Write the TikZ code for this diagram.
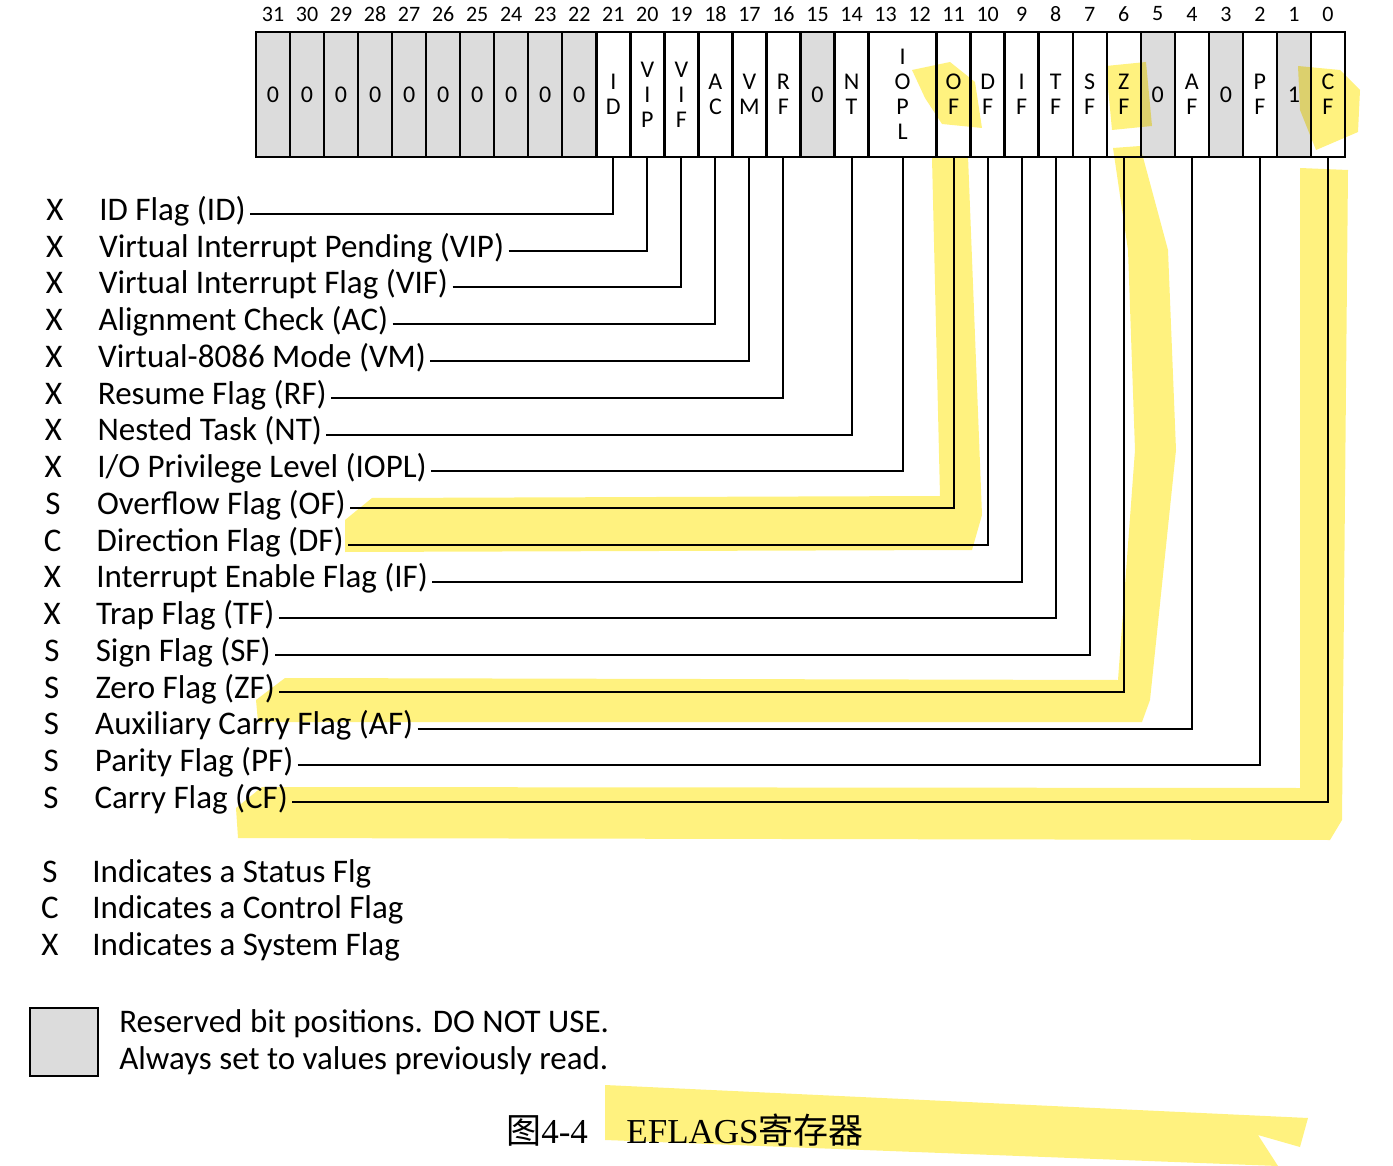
\documentclass[tikz,border=0pt]{standalone}
\usepackage{fontspec}
\setmainfont{Carlito}
\newfontfamily\capserif{Liberation Serif}
\newfontfamily\cjk{Noto Sans CJK SC}
\usetikzlibrary{positioning}
\definecolor{RegGray}{HTML}{DCDCDC}
\definecolor{MarkYellow}{HTML}{FFF27F}
\tikzset{
  regcell/.style={draw,line width=1.2pt,inner sep=0pt,outer sep=0pt,minimum height=62.5pt,align=center,font=\fontsize{12}{12.5}\selectfont},
  rsvcell/.style={regcell,fill=RegGray},
  flagcell/.style={regcell},
  bitnum/.style={font=\fontsize{11}{12}\selectfont,inner sep=0pt},
  catlbl/.style={font=\fontsize{16.5}{18}\selectfont,inner sep=0pt,text height=0.8em,text depth=0.16em},
  flaglbl/.style={anchor=west,font=\fontsize{16.5}{18}\selectfont,inner sep=2pt,text height=0.8em,text depth=0.16em},
  flaglink/.style={line width=1pt},
  marker/.style={fill=MarkYellow,draw=none}
}
\begin{document}
\begin{tikzpicture}[x=0.5pt,y=-0.5pt]
\useasboundingbox (0,0) rectangle (1393,1166);
% register cells, bit 31 down to bit 0
\coordinate (regstart) at (256,94.5);
\foreach \nm/\txt/\w/\kind [remember=\nm as \prev (initially regstart)] in {
  r31/0/1/rsvcell, r30/0/1/rsvcell, r29/0/1/rsvcell, r28/0/1/rsvcell, r27/0/1/rsvcell,
  r26/0/1/rsvcell, r25/0/1/rsvcell, r24/0/1/rsvcell, r23/0/1/rsvcell, r22/0/1/rsvcell,
  cID/{I\\D}/1/flagcell, cVIP/{V\\I\\P}/1/flagcell, cVIF/{V\\I\\F}/1/flagcell,
  cAC/{A\\C}/1/flagcell, cVM/{V\\M}/1/flagcell, cRF/{R\\F}/1/flagcell,
  r15/0/1/rsvcell, cNT/{N\\T}/1/flagcell, cIOPL/{I\\O\\P\\L}/2/flagcell,
  cOF/{O\\F}/1/flagcell, cDF/{D\\F}/1/flagcell, cIF/{I\\F}/1/flagcell,
  cTF/{T\\F}/1/flagcell, cSF/{S\\F}/1/flagcell, cZF/{Z\\F}/1/flagcell,
  r5/0/1/rsvcell, cAF/{A\\F}/1/flagcell, r3/0/1/rsvcell, cPF/{P\\F}/1/flagcell,
  r1/1/1/rsvcell, cCF/{C\\F}/1/flagcell}
  \node[\kind,minimum width=\w*17.015pt,right=0pt of \prev] (\nm) {\txt};
% bit numbers
\foreach \b in {0,...,31}
  \node[bitnum] (n\b) at ({256+(31.5-\b)*34.03},14) {\b};
% flag names and their links
\foreach \i/\cat/\txt/\cell in {
  0/X/{ID Flag (ID)}/cID, 1/X/{Virtual Interrupt Pending (VIP)}/cVIP,
  2/X/{Virtual Interrupt Flag (VIF)}/cVIF, 3/X/{Alignment Check (AC)}/cAC,
  4/X/{Virtual-8086 Mode (VM)}/cVM, 5/X/{Resume Flag (RF)}/cRF,
  6/X/{Nested Task (NT)}/cNT, 7/X/{I/O Privilege Level (IOPL)}/cIOPL,
  8/S/{Overflow Flag (OF)}/cOF, 9/C/{Direction Flag (DF)}/cDF,
  10/X/{Interrupt Enable Flag (IF)}/cIF, 11/X/{Trap Flag (TF)}/cTF,
  12/S/{Sign Flag (SF)}/cSF, 13/S/{Zero Flag (ZF)}/cZF,
  14/S/{Auxiliary Carry Flag (AF)}/cAF, 15/S/{Parity Flag (PF)}/cPF,
  16/S/{Carry Flag (CF)}/cCF}
{
  \node[catlbl] (k\i) at (55-\i*0.25,214+\i*36.75) {\cat};
  \node[flaglbl] (f\i) at (95-\i*0.3,214+\i*36.75) {\txt};
  \draw[flaglink] (f\i.east) -| (\cell.south);
}
% legend
\node[catlbl] (kS) at (50,876) {S};
\node[flaglbl] (lS) at (88,876) {Indicates a Status Flg};
\node[catlbl] (kC) at (50,912) {C};
\node[flaglbl] (lC) at (88,912) {Indicates a Control Flag};
\node[catlbl] (kX) at (50,949) {X};
\node[flaglbl] (lX) at (88,949) {Indicates a System Flag};
\node[draw,line width=1.2pt,fill=RegGray,minimum width=34pt,minimum height=34pt,inner sep=0pt] (rsvkey) at (64,1042) {};
\node[align=left,font=\fontsize{16.5}{18.5}\selectfont,right=6.5pt of rsvkey] (rsvtxt) {Reserved bit positions. DO NOT USE.\\Always set to values previously read.};
% caption
\node[font=\capserif\fontsize{17.5}{20}\selectfont] (cap) at (685,1130) {{\cjk 图}4-4\hspace{1.1em}EFLAGS{\cjk 寄存器}};
% highlighter marks
\begin{scope}[blend mode=multiply]
  \fill[marker] (912,70) -- (950,62) -- (975,82) -- (982,128) -- (942,124) -- (925,98) -- cycle;
  \fill[marker] (932,158) -- (968,156) -- (982,515) -- (972,550) -- (345,552) -- (345,520) -- (372,498) -- (940,496) -- cycle;
  \fill[marker] (1106,66) -- (1146,62) -- (1152,126) -- (1112,130) -- cycle;
  \fill[marker] (1113,148) -- (1140,146) -- (1168,250) -- (1176,450) -- (1150,700) -- (1142,722) -- (258,722) -- (256,700) -- (285,678) -- (1118,680) -- (1135,450) -- (1128,250) -- cycle;
  \fill[marker] (1298,66) -- (1340,70) -- (1360,90) -- (1358,132) -- (1316,150) -- (1300,110) -- cycle;
  \fill[marker] (1300,168) -- (1348,170) -- (1342,820) -- (1330,840) -- (238,838) -- (236,808) -- (262,787) -- (1300,788) -- cycle;
  \fill[marker] (605,1085) -- (1308,1118) -- (1300,1147) -- (1258,1135) -- (1278,1166) -- (605,1140) -- cycle;
\end{scope}
\end{tikzpicture}
\end{document}
